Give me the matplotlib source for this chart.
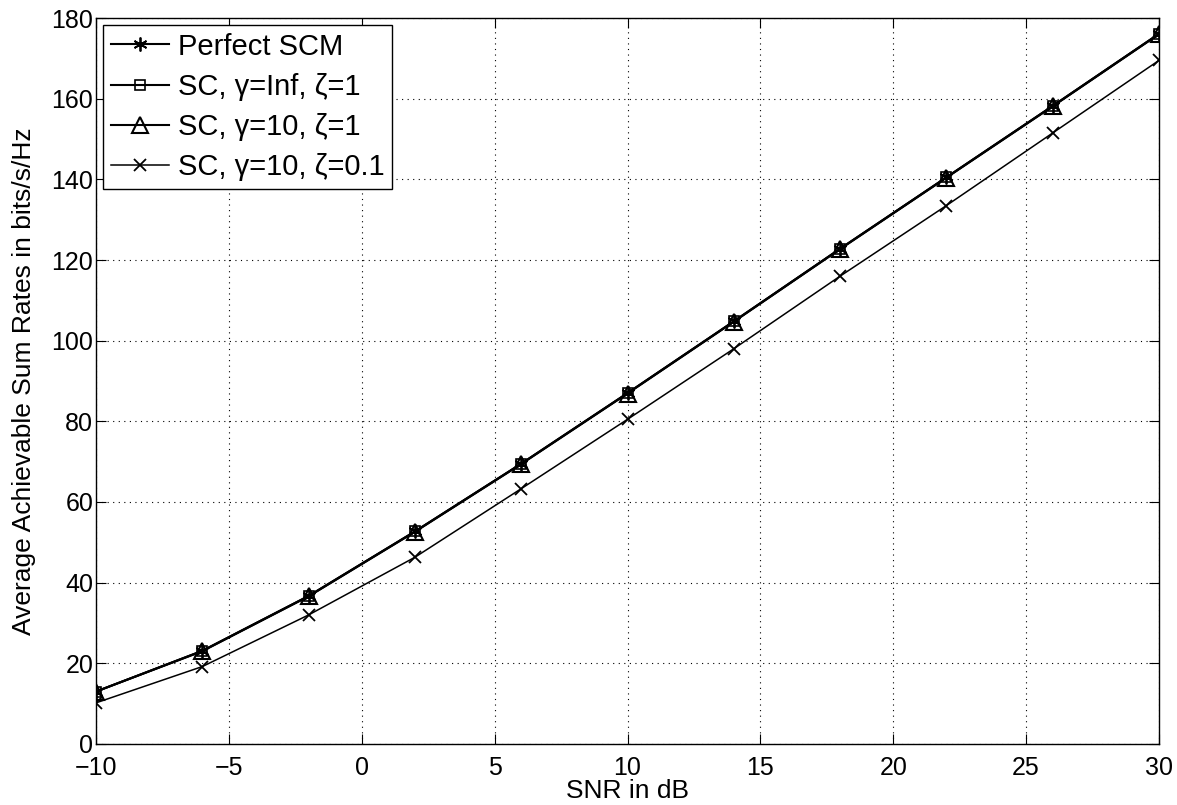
import matplotlib
matplotlib.use('Agg')
import matplotlib.pyplot as plt

plt.rcParams['font.family'] = ['Liberation Sans', 'DejaVu Sans']

snr = [-10, -6, -2, 2, 6, 10, 14, 18, 22, 26, 30]
perfect_scm = [13.0, 23.1, 36.7, 52.7, 69.5, 87.0, 104.8, 122.8, 140.5, 158.2, 176.1]
sc_inf_1 = [13.0, 23.1, 36.7, 52.7, 69.5, 87.0, 104.8, 122.8, 140.5, 158.2, 176.1]
sc_10_1 = [13.0, 23.0, 36.6, 52.6, 69.4, 86.9, 104.7, 122.7, 140.4, 158.1, 176.0]
sc_10_01 = [10.2, 19.2, 32.0, 46.3, 63.3, 80.5, 98.0, 116.0, 133.5, 151.5, 169.5]

labels = ['Perfect SCM', 'SC, γ=Inf, ζ=1', 'SC, γ=10, ζ=1', 'SC, γ=10, ζ=0.1']

fig = plt.figure(figsize=(11.77, 8.05), dpi=100)
ax = fig.add_axes([0.0816, 0.0758, 0.9031, 0.9018])

ax.plot(snr, perfect_scm, '-', marker=(6, 2, 0), color='k', lw=1.5, ms=10, mew=1.3, label=labels[0])
ax.plot(snr, sc_inf_1, '-s', color='k', lw=1.5, ms=7, mfc='none', mew=1.2, label=labels[1])
ax.plot(snr, sc_10_1, '-^', color='k', lw=1.5, ms=12, mfc='none', mew=1.5, label=labels[2])
ax.plot(snr, sc_10_01, '-x', color='k', lw=1.1, ms=9, mew=1.3, label=labels[3])

ax.set_xlim(-10, 30)
ax.set_ylim(0, 180)
ax.set_xticks(range(-10, 31, 5))
ax.set_xticklabels(['\u221210', '\u22125'] + [str(v) for v in range(0, 31, 5)])
ax.set_yticks(range(0, 181, 20))
ax.grid(True, linestyle=(0, (1, 4)), color='k', lw=0.8)
ax.tick_params(direction='in', top=True, right=True, labelsize=18, length=7, pad=2)
ax.tick_params(axis='x', pad=9)
for s in ax.spines.values():
    s.set_linewidth(1.0)

ax.set_xlabel('SNR in dB', fontsize=19, labelpad=-1)
ax.set_ylabel('Average Achievable Sum Rates in bits/s/Hz', fontsize=19, labelpad=11)

leg = ax.legend(loc='upper left', fontsize=21, fancybox=False, framealpha=1,
                edgecolor='k', handlelength=2.0, borderaxespad=0.25,
                handletextpad=0.3, labelspacing=0.42, borderpad=0.25)
leg.get_frame().set_linewidth(1.0)

fig.savefig('out.png', dpi=100)
